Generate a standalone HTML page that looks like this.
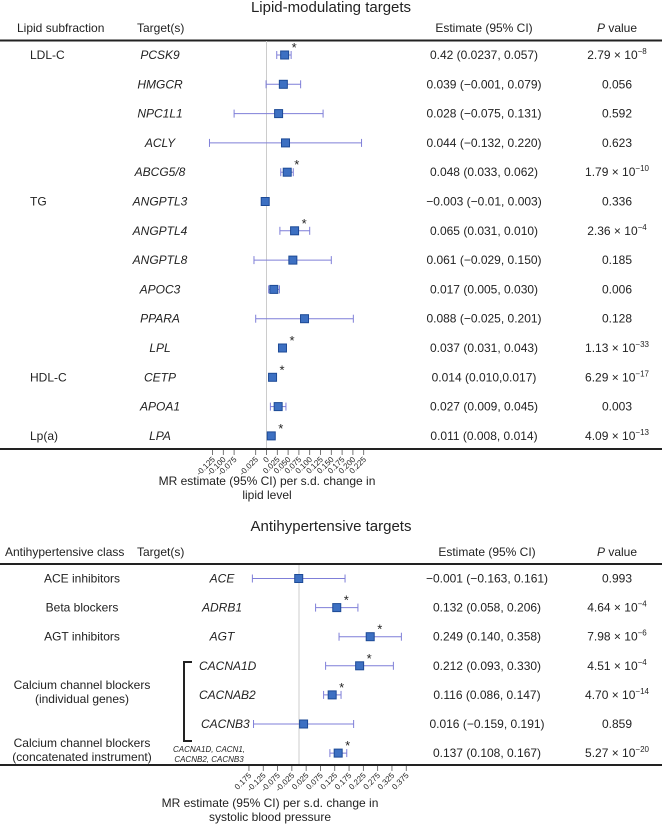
<!DOCTYPE html>
<html><head><meta charset="utf-8"><style>
body{margin:0;background:#fff}
svg{display:block;font-family:"Liberation Sans",sans-serif;fill:#222}
</style></head><body>
<svg id="c" width="662" height="826" viewBox="0 0 662 826"></svg>
<script>
// ---- Lipid-modulating data ----
const lipTargets=["PCSK9","HMGCR","NPC1L1","ACLY","ABCG5/8","ANGPTL3","ANGPTL4","ANGPTL8","APOC3","PPARA","LPL","CETP","APOA1","LPA"];
const lipEst=[0.042,0.039,0.028,0.044,0.048,-0.003,0.065,0.061,0.017,0.088,0.037,0.014,0.027,0.011];
const lipLo=[0.0237,-0.001,-0.075,-0.132,0.033,-0.01,0.031,-0.029,0.005,-0.025,0.031,0.010,0.009,0.008];
const lipHi=[0.057,0.079,0.131,0.220,0.062,0.003,0.100,0.150,0.030,0.201,0.043,0.017,0.045,0.014];
const lipSig=[1,0,0,0,1,0,1,0,0,0,1,1,0,1];
const lipEstTxt=["0.42 (0.0237, 0.057)","0.039 (−0.001, 0.079)","0.028 (−0.075, 0.131)","0.044 (−0.132, 0.220)","0.048 (0.033, 0.062)","−0.003 (−0.01, 0.003)","0.065 (0.031, 0.010)","0.061 (−0.029, 0.150)","0.017 (0.005, 0.030)","0.088 (−0.025, 0.201)","0.037 (0.031,  0.043)","0.014 (0.010,0.017)","0.027 (0.009, 0.045)","0.011 (0.008, 0.014)"];
const lipP=[["2.79 × 10","−8"],["0.056"],["0.592"],["0.623"],["1.79 × 10","−10"],["0.336"],["2.36 × 10","−4"],["0.185"],["0.006"],["0.128"],["1.13 × 10","−33"],["6.29 × 10","−17"],["0.003"],["4.09 × 10","−13"]];
const lipTicks=[-0.125,-0.1,-0.075,-0.025,0,0.025,0.05,0.075,0.1,0.125,0.15,0.175,0.2,0.225];
const lipTickLbl=["-0.125","-0.100","-0.075","-0.025","0","0.025","0.050","0.075","0.100","0.125","0.150","0.175","0.200","0.225"];
// ---- Antihypertensive data ----
const ahTargets=["ACE","ADRB1","AGT","CACNA1D","CACNAB2","CACNB3",""];
const ahEst=[-0.001,0.132,0.249,0.212,0.116,0.016,0.137];
const ahLo=[-0.163,0.058,0.140,0.093,0.086,-0.159,0.108];
const ahHi=[0.161,0.206,0.358,0.330,0.147,0.191,0.167];
const ahSig=[0,1,1,1,1,0,1];
const ahEstTxt=["−0.001 (−0.163, 0.161)","0.132 (0.058, 0.206)","0.249 (0.140, 0.358)","0.212 (0.093, 0.330)","0.116 (0.086, 0.147)","0.016 (−0.159, 0.191)","0.137 (0.108, 0.167)"];
const ahP=[["0.993"],["4.64 × 10","−4"],["7.98 × 10","−6"],["4.51 × 10","−4"],["4.70 × 10","−14"],["0.859"],["5.27 × 10","−20"]];
const ahTicks=[-0.175,-0.125,-0.075,-0.025,0.025,0.075,0.125,0.175,0.225,0.275,0.325,0.375];
const ahTickLbl=["0.175","-0.125","-0.075","-0.025","0.025","0.075","0.125","0.175","0.225","0.275","0.325","0.375"];

const svg=document.getElementById('c');
const NS="http://www.w3.org/2000/svg";
function el(tag,attrs,parent,text){const e=document.createElementNS(NS,tag);for(const k in attrs)e.setAttribute(k,attrs[k]);if(text!==undefined)e.textContent=text;(parent||svg).appendChild(e);return e;}
function txt(x,y,s,opt,parent){opt=opt||{};const t=el('text',{x:x,y:y,'font-size':opt.fs||12,'text-anchor':opt.a||'start'},parent,s);if(opt.it)t.setAttribute('font-style','italic');return t;}
function pval(x,y,p,parent){const t=el('text',{x:x,y:y,'font-size':12,'text-anchor':'middle'},parent);
  
  
  el('tspan',{},t,p[0]);if(p[1]){el('tspan',{dy:-5,'font-size':8},t,p[1]);}}

const lx=v=>266.5+v*432;
const ax=v=>299+v*286;
const CI="#7f7fd8",SQ="#3d70c2",SQB="#1d4a96";

function forest(g,targets,est,lo,hi,sig,xf,y0,dy,sq){
  for(let i=0;i<est.length;i++){
    const y=y0+i*dy;
    const row=el('g',{},g);
    
    
    const l=el('line',{x1:xf(lo[i]),x2:xf(hi[i]),y1:y,y2:y,stroke:CI,'stroke-width':1},row);
    
    
    el('line',{x1:xf(lo[i]),x2:xf(lo[i]),y1:y-4,y2:y+4,stroke:CI,'stroke-width':1},row);
    el('line',{x1:xf(hi[i]),x2:xf(hi[i]),y1:y-4,y2:y+4,stroke:CI,'stroke-width':1},row);
    const r=el('rect',{x:xf(est[i])-sq/2,y:y-sq/2,width:sq,height:sq,fill:SQ,stroke:SQB,'stroke-width':1},row);
    
    
    if(sig[i]){const s=txt(xf(est[i])+sq/2+3,y-3,'*',{fs:13},row);
      
      }
  }
}

// ===== TOP PANEL =====
const topG=el('g',{});  
let t=txt(331,12,'Lipid-modulating targets',{fs:15,a:'middle'},topG);  
t=txt(17,32,'Lipid subfraction',{fs:12},topG);  
t=txt(137,32,'Target(s)',{fs:12},topG);  
t=txt(484,32,'Estimate (95% CI)',{fs:12,a:'middle'},topG);  
t=el('text',{x:617,y:32,'font-size':12,'text-anchor':'middle'},topG); el('tspan',{'font-style':'italic'},t,'P'); el('tspan',{},t,' value');
 
el('line',{x1:0,x2:662,y1:40.5,y2:40.5,stroke:'#222','stroke-width':2},topG);
el('line',{x1:lx(0),x2:lx(0),y1:41,y2:448,stroke:'#ccc','stroke-width':1},topG);
const LY0=55,LDY=29.3;
[["LDL-C",0],["TG",5],["HDL-C",11],["Lp(a)",13]].forEach(([s,i])=>{t=txt(30,LY0+i*LDY+4,s,{},topG);});
lipTargets.forEach((s,i)=>{t=txt(160,LY0+i*LDY+4,s,{a:'middle',it:1},topG);
  t=txt(484,LY0+i*LDY+4,lipEstTxt[i],{a:'middle'},topG);
  pval(617,LY0+i*LDY+4,lipP[i],topG);});
forest(topG,lipTargets,lipEst,lipLo,lipHi,lipSig,lx,LY0,LDY,8);
el('line',{x1:0,x2:662,y1:449,y2:449,stroke:'#222','stroke-width':2},topG);
lipTicks.forEach((v,i)=>{el('line',{x1:lx(v),x2:lx(v),y1:450,y2:455,stroke:'#555','stroke-width':0.8},topG);
  t=el('text',{x:lx(v)+3,y:460,'font-size':8,'text-anchor':'end',transform:`rotate(-45 ${lx(v)+3} 460)`},topG,lipTickLbl[i]);
  });
t=txt(267,485,'MR estimate (95% CI) per s.d. change in',{a:'middle'},topG);
txt(267,499,'lipid level',{a:'middle'},topG);

// ===== BOTTOM PANEL =====
const botG=el('g',{});  
t=txt(331,531,'Antihypertensive targets',{fs:15,a:'middle'},botG);
t=txt(5,556,'Antihypertensive class',{fs:12},botG);
t=txt(137,556,'Target(s)',{fs:12},botG);
t=txt(487,556,'Estimate (95% CI)',{fs:12,a:'middle'},botG);
t=el('text',{x:617,y:556,'font-size':12,'text-anchor':'middle'},botG); el('tspan',{'font-style':'italic'},t,'P'); el('tspan',{},t,' value');
 
el('line',{x1:0,x2:662,y1:564,y2:564,stroke:'#222','stroke-width':2},botG);
el('line',{x1:ax(0),x2:ax(0),y1:565,y2:765,stroke:'#ccc','stroke-width':1},botG);
const AY0=578.5,ADY=29.1;
[["ACE inhibitors",0],["Beta blockers",1],["AGT inhibitors",2]].forEach(([s,i])=>{t=txt(82,AY0+i*ADY+4,s,{a:'middle'},botG);});
t=txt(82,689,'Calcium channel blockers',{a:'middle'},botG);
txt(82,703,'(individual genes)',{a:'middle'},botG);
t=txt(82,747,'Calcium channel blockers',{a:'middle'},botG);
txt(82,761,'(concatenated instrument)',{a:'middle'},botG);
const br=el('path',{d:'M192 662 H184 V741 H192',fill:'none',stroke:'#222','stroke-width':2},botG);

const ahX=[222,222,222,199,199,201];
ahTargets.forEach((s,i)=>{if(i<3){t=txt(222,AY0+i*ADY+4,s,{a:'middle',it:1},botG);}else if(i<6){t=txt(ahX[i],AY0+i*ADY+4,s,{it:1},botG);}else{t=txt(209,AY0+i*ADY-1,'CACNA1D, CACN1,',{a:'middle',it:1,fs:8},botG);txt(209,AY0+i*ADY+9,'CACNB2, CACNB3',{a:'middle',it:1,fs:8},botG);}
  
  t=txt(487,AY0+i*ADY+4,ahEstTxt[i],{a:'middle'},botG);
  pval(617,AY0+i*ADY+4,ahP[i],botG);});
forest(botG,ahTargets,ahEst,ahLo,ahHi,ahSig,ax,AY0,ADY,8);
el('line',{x1:0,x2:662,y1:765,y2:765,stroke:'#222','stroke-width':2},botG);
ahTicks.forEach((v,i)=>{el('line',{x1:ax(v),x2:ax(v),y1:766,y2:771,stroke:'#555','stroke-width':0.8},botG);
  t=el('text',{x:ax(v)+3,y:776,'font-size':8,'text-anchor':'end',transform:`rotate(-45 ${ax(v)+3} 776)`},botG,ahTickLbl[i]);
  });
t=txt(270,807,'MR estimate (95% CI) per s.d. change in',{a:'middle'},botG);
txt(270,821,'systolic blood pressure',{a:'middle'},botG);
</script>
</body></html>
